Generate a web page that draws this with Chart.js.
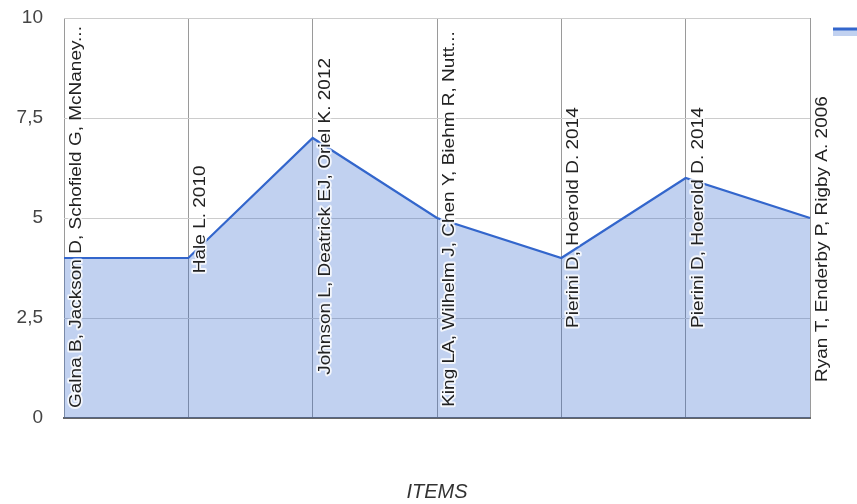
<!DOCTYPE html>
<html>
<head>
<meta charset="utf-8">
<script src="https://cdn.jsdelivr.net/npm/chart.js@4.4.0/dist/chart.umd.min.js"></script>
<style>
  html, body { margin: 0; padding: 0; background: #ffffff; overflow: hidden; }
  #wrap { width: 857px; height: 504px; position: relative; }
</style>
</head>
<body>
<div id="wrap"><canvas id="c" width="857" height="504"></canvas></div>
<script>
// ---- data ----
const categories = [
  "Galna B, Jackson D, Schofield G, McNaney...",
  "Hale L. 2010",
  "Johnson L, Deatrick EJ, Oriel K. 2012",
  "King LA, Wilhelm J, Chen Y, Biehm R, Nutt...",
  "Pierini D, Hoerold D. 2014",
  "Pierini D, Hoerold D. 2014",
  "Ryan T, Enderby P, Rigby A. 2006"
];
const seriesValues = [4, 4, 7, 5, 4, 6, 5];
const yTickValues = [0, 2.5, 5, 7.5, 10];
const xAxisTitle = "ITEMS";

// where (in y-axis units) each rotated category label starts
const labelAnchors = [0.25, 3.62, 1.08, 0.28, 2.25, 2.25, 0.9];

const FONT = "Arial, 'Liberation Sans', sans-serif";

const labelPlugin = {
  id: 'rotatedLabels',
  afterDatasetsDraw(chart) {
    const ctx = chart.ctx;
    const xs = chart.scales.x, ys = chart.scales.y;
    ctx.save();
    categories.forEach((txt, i) => {
      const x = xs.getPixelForValue(i);
      const yb = ys.getPixelForValue(labelAnchors[i]);
      ctx.save();
      ctx.translate(x + 17, yb);
      ctx.rotate(-Math.PI / 2);
      ctx.scale(1, 0.88);
      ctx.font = "19px " + FONT;
      ctx.textAlign = 'left';
      ctx.textBaseline = 'alphabetic';
      ctx.lineJoin = 'round';
      ctx.strokeStyle = 'rgba(255,255,255,0.8)';
      ctx.lineWidth = 4;
      ctx.strokeText(txt, 0, 0);
      ctx.fillStyle = '#222222';
      ctx.fillText(txt, 0, 0);
      ctx.restore();
    });
    // legend icon (label falls outside the visible area)
    const lx = chart.chartArea.right + 23;
    const ly = chart.chartArea.top + 11;
    ctx.fillStyle = 'rgba(51,102,204,0.3)';
    ctx.fillRect(lx, ly, 40, 7);
    ctx.strokeStyle = '#3366cc';
    ctx.lineWidth = 3;
    ctx.beginPath();
    ctx.moveTo(lx, ly);
    ctx.lineTo(lx + 40, ly);
    ctx.stroke();
    ctx.restore();
  }
};

new Chart(document.getElementById('c'), {
  type: 'line',
  data: {
    labels: categories,
    datasets: [{
      label: 'Series',
      data: seriesValues,
      borderColor: '#3366cc',
      backgroundColor: 'rgba(51,102,204,0.3)',
      borderWidth: 2.2,
      fill: 'origin',
      tension: 0,
      pointRadius: 0,
      pointHoverRadius: 0
    }]
  },
  options: {
    responsive: false,
    animation: false,
    devicePixelRatio: 1,
    layout: { padding: { top: 18, right: 47, left: 0, bottom: 0 } },
    plugins: { legend: { display: false }, tooltip: { enabled: false } },
    scales: {
      x: {
        type: 'category',
        offset: false,
        grid: { color: '#9a9a9a', lineWidth: 1, drawTicks: false },
        border: { display: true, color: '#666666', width: 2 },
        ticks: { display: false },
        title: {
          display: true, text: xAxisTitle, color: '#333333',
          font: { family: FONT, size: 20, style: 'italic' },
          padding: { top: 0, bottom: 0 }
        },
        afterFit(scale) { scale.height = 86; }
      },
      y: {
        min: 0, max: 10,
        afterBuildTicks(scale) { scale.ticks = yTickValues.map(v => ({ value: v })); },
        grid: { color: '#cccccc', lineWidth: 1, drawTicks: false },
        border: { display: false },
        ticks: {
          color: '#444444', padding: 21,
          font: { family: FONT, size: 19 },
          callback: v => String(v).replace('.', ',')
        },
        afterFit(scale) { scale.width = 64; scale.paddingTop = 0; scale.paddingBottom = 0; }
      }
    }
  },
  plugins: [labelPlugin]
});
</script>
</body>
</html>
